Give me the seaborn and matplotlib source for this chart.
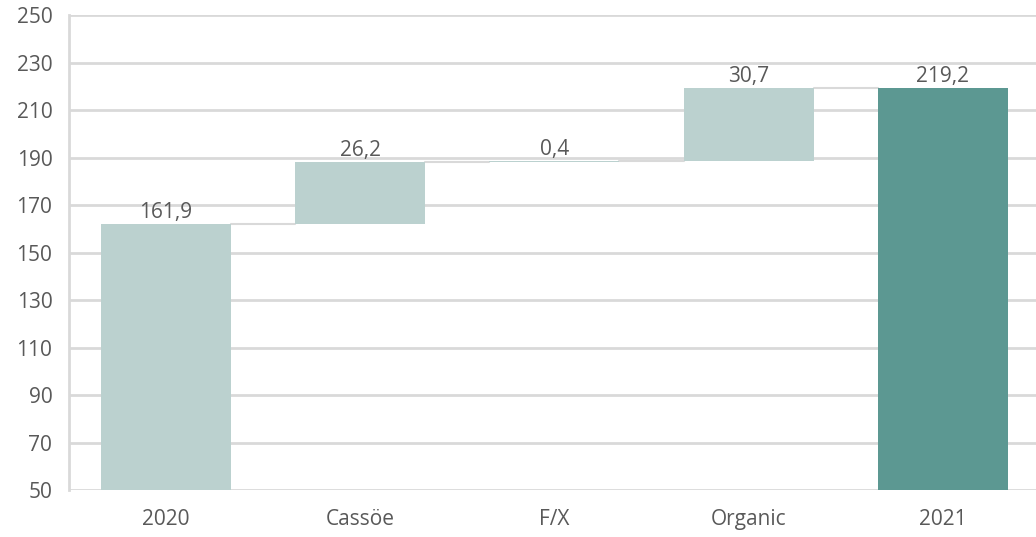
import matplotlib
matplotlib.use("Agg")
import matplotlib.pyplot as plt
import numpy as np
import pandas as pd
import seaborn as sns

# Bridge from 2020 to 2021
categories = ["2020", "Cassöe", "F/X", "Organic", "2021"]
values = [161.9, 26.2, 0.4, 30.7, 219.2]
is_total = [True, False, False, False, True]

axis_floor = 50
y_ticks = list(range(50, 251, 20))

light = "#bbd1cf"
dark = "#5c9892"
grid_col = "#d9d9d9"
text_col = "#595959"

# Running level for the stepping bars
bottoms, tops = [], []
level = 0.0
for v, tot in zip(values, is_total):
    if tot:
        bottoms.append(axis_floor)
        tops.append(v)
        level = v
    else:
        bottoms.append(level)
        level += v
        tops.append(level)

df = pd.DataFrame({
    "category": categories,
    "height": np.array(tops) - np.array(bottoms),
})

sns.set_theme(style="white")
plt.rcParams["font.family"] = ["Open Sans", "DejaVu Sans"]

fig = plt.figure(figsize=(10.36, 5.37), dpi=100)
ax = fig.add_axes([0.0666, 0.0875, 0.9334, 0.8845])

bar_w = 0.67
sns.barplot(data=df, x="category", y="height", order=categories,
            color=light, saturation=1, bottom=np.array(bottoms),
            width=bar_w, ax=ax, zorder=3, linewidth=0)

# Final total in the darker shade
for i, (patch, tot) in enumerate(zip(ax.patches, is_total)):
    if tot and i == len(categories) - 1:
        patch.set_facecolor(dark)

ax.set_ylim(axis_floor, 250)
ax.set_xlim(-0.5, 4.48)
ax.set_yticks(y_ticks)
ax.yaxis.grid(True, color=grid_col, linewidth=2, zorder=0)
ax.set_axisbelow(True)
for s in ["top", "right", "bottom"]:
    ax.spines[s].set_visible(False)
ax.spines["left"].set_color(grid_col)
ax.spines["left"].set_linewidth(2)
ax.set_xlabel("")
ax.set_ylabel("")
ax.tick_params(axis="both", length=0, labelsize=15, labelcolor=text_col)
ax.tick_params(axis="y", pad=12)
ax.tick_params(axis="x", pad=14)

# Connectors between consecutive bars
half = bar_w / 2
for i in range(len(categories) - 1):
    ax.plot([i + half, i + 1 - half], [tops[i], tops[i]],
            color=grid_col, linewidth=1.5, zorder=2)

# Value labels
for i, v in enumerate(values):
    ax.annotate(f"{v:.1f}".replace(".", ","), xy=(i, tops[i]),
                xytext=(0, 1), textcoords="offset points",
                ha="center", va="bottom", fontsize=15, color=text_col)

fig.savefig("out.png", dpi=100)
